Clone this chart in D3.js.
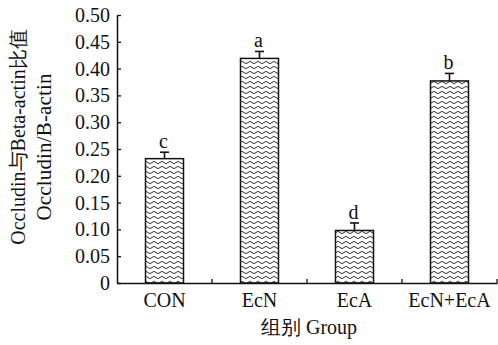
<!DOCTYPE html>
<html>
<head>
<meta charset="utf-8">
<script src="https://cdn.jsdelivr.net/npm/d3@7"></script>
<style>
  html, body { margin: 0; padding: 0; background: #fff; }
  svg text { font-family: "Liberation Serif", "Times New Roman", serif; fill: #111; }
</style>
</head>
<body>
<svg id="chart" width="498" height="345"></svg>
<script>
// Occludin / beta-actin ratio by group
const groups = ["CON", "EcN", "EcA", "EcN+EcA"];
const ratios = [0.232, 0.419, 0.098, 0.377];
const errors = [0.012, 0.013, 0.014, 0.014];
const letters = ["c", "a", "d", "b"];
const yTicks = [0, 0.05, 0.10, 0.15, 0.20, 0.25, 0.30, 0.35, 0.40, 0.45, 0.50];

const svg = d3.select("#chart");
const plotLeft = 117, plotRight = 497, plotTop = 15, plotBottom = 283;

const x = d3.scaleBand().domain(groups).range([plotLeft, plotRight]).paddingInner(0.6).paddingOuter(0.3);
const y = d3.scaleLinear().domain([0, 0.5]).range([plotBottom, plotTop]);

// wavy hatch fill
const defs = svg.append("defs");
const pat = defs.append("pattern")
  .attr("id", "wave")
  .attr("patternUnits", "userSpaceOnUse")
  .attr("width", 8).attr("height", 5);
pat.append("rect").attr("width", 8).attr("height", 5).attr("fill", "#fff");
pat.append("path")
  .attr("d", "M0,2.5 Q2,0.2 4,2.5 T8,2.5")
  .attr("fill", "none").attr("stroke", "#333").attr("stroke-width", 1);

// bars
svg.append("g").selectAll("rect")
  .data(groups)
  .join("rect")
  .attr("x", d => x(d))
  .attr("y", (d, i) => y(ratios[i]))
  .attr("width", x.bandwidth())
  .attr("height", (d, i) => y(0) - y(ratios[i]))
  .attr("fill", "url(#wave)")
  .attr("stroke", "#111").attr("stroke-width", 1.5);

// error bars (upper half)
const eb = svg.append("g").attr("stroke", "#111").attr("stroke-width", 1.6);
groups.forEach((g, i) => {
  const cx = x(g) + x.bandwidth() / 2;
  eb.append("line").attr("x1", cx).attr("x2", cx)
    .attr("y1", y(ratios[i])).attr("y2", y(ratios[i] + errors[i]));
  eb.append("line").attr("x1", cx - 4.5).attr("x2", cx + 4.5)
    .attr("y1", y(ratios[i] + errors[i])).attr("y2", y(ratios[i] + errors[i]));
});

// significance letters
svg.append("g").selectAll("text")
  .data(groups)
  .join("text")
  .attr("x", d => x(d) + x.bandwidth() / 2 - 1)
  .attr("y", (d, i) => y(ratios[i] + errors[i]) - 4)
  .attr("text-anchor", "middle")
  .attr("font-size", 20)
  .text((d, i) => letters[i]);

// y axis
const yAxis = d3.axisLeft(y)
  .tickValues(yTicks)
  .tickSizeInner(-4).tickSizeOuter(0)
  .tickPadding(7)
  .tickFormat(d => d === 0 ? "0" : d3.format(".2f")(d));
const gy = svg.append("g").attr("transform", `translate(${plotLeft},0)`).call(yAxis);
gy.select(".domain").attr("stroke", "#111").attr("stroke-width", 1.5);
gy.selectAll(".tick line").attr("stroke", "#111").attr("stroke-width", 1.3);
gy.selectAll(".tick text").attr("font-size", 20).attr("fill", "#111")
  .style("font-family", "'Liberation Serif', serif");

// x axis with ticks between categories
const xAxis = d3.axisBottom(x).tickSize(0).tickPadding(10);
const gx = svg.append("g").attr("transform", `translate(0,${plotBottom})`).call(xAxis);
gx.select(".domain").attr("stroke", "#111").attr("stroke-width", 1.5);
gx.selectAll(".tick text").attr("font-size", 20).attr("fill", "#111")
  .style("font-family", "'Liberation Serif', serif");
const step = x.step();
const seps = groups.map((g, i) => plotLeft + step * (i + 1));
gx.append("g").selectAll("line")
  .data(seps)
  .join("line")
  .attr("x1", d => d).attr("x2", d => d)
  .attr("y1", 0).attr("y2", -4)
  .attr("stroke", "#111").attr("stroke-width", 1.3);

// axis titles
svg.append("text")
  .attr("x", 309).attr("y", 334)
  .attr("text-anchor", "middle")
  .attr("font-size", 20)
  .text("组别 Group");

svg.append("text")
  .attr("transform", "translate(25,137) rotate(-90)")
  .attr("text-anchor", "middle")
  .attr("font-size", 20)
  .text("Occludin与Beta-actin比值");

svg.append("text")
  .attr("transform", "translate(51,147) rotate(-90)")
  .attr("text-anchor", "middle")
  .attr("font-size", 21)
  .attr("textLength", 147)
  .attr("lengthAdjust", "spacing")
  .text("Occludin/B-actin");
</script>
</body>
</html>
